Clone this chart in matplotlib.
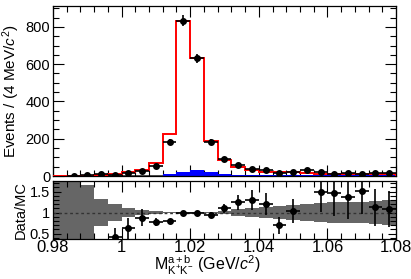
import numpy as np
import matplotlib.pyplot as plt
from matplotlib.ticker import MultipleLocator

plt.rcParams['font.family'] = ['Liberation Sans', 'DejaVu Sans']
plt.rcParams['mathtext.fontset'] = 'custom'
plt.rcParams['mathtext.rm'] = 'Liberation Sans'
plt.rcParams['mathtext.it'] = 'Liberation Sans:italic'

# 25 bins of 4 MeV between 0.98 and 1.08 GeV
edges = np.linspace(0.98, 1.08, 26)
centers = 0.5 * (edges[:-1] + edges[1:])

data = [np.nan, 2, 7, 10, 8, 14, 25, 55, 184, 834, 632, 185, 93, 57, 39,
        30, 18, 21, 30, 22, 12, 14, 12, 14, 14]
mc_total = [0.5, 1, 2, 5, 12, 20, 30, 68, 224, 830, 632, 188, 86, 50, 33,
            24, 20, 19, 14, 13, 12, 11, 10, 10, 10]
mc_bkg = [1, 1, 1, 1, 1, 1, 1, 1, 12, 24, 32, 21, 12, 7, 4,
          4, 5, 6, 8, 8, 8, 8, 8, 8, 8]
mc_other = [3, 3, 3, 3, 3, 3, 3, 3, 0, 0, 0, 0, 0, 0, 0,
            0, 0, 0, 0, 0, 0, 0, 0, 0, 0]

ratio = [np.nan, np.nan, np.nan, np.nan, 0.41, 0.62, 0.88, 0.78, 0.80, 1.0,
         1.0, 0.95, 1.10, 1.24, 1.30, 1.20, 0.70, 1.04, np.nan, 1.50,
         1.47, 1.38, 1.51, 1.12, 1.09]
ratio_err = [np.nan, np.nan, np.nan, np.nan, 0.22, 0.25, 0.20, 0.09, 0.05, 0.035,
             0.04, 0.07, 0.10, 0.18, 0.24, 0.26, 0.20, 0.29, np.nan, 0.48,
             0.55, 0.53, 0.55, 0.45, 0.43]
band = [2.0, 2.0, 0.65, 0.33, 0.21, 0.11, 0.06, 0.04, 0.02, 0.012,
        0.012, 0.02, 0.04, 0.08, 0.11, 0.14, 0.16, 0.18, 0.20, 0.22,
        0.24, 0.25, 0.26, 0.28, 0.30]

data = np.array(data, dtype=float)
ratio = np.array(ratio)
ratio_err = np.array(ratio_err)
band = np.array(band)
halfw = 0.002

fig = plt.figure(figsize=(4.11, 2.79), dpi=100)
ax1 = fig.add_axes([53/411, 103/279, 343/411, 170/279])
ax2 = fig.add_axes([53/411, 40/279, 343/411, 58/279])

# upper panel
ax1.stairs(mc_other, edges, fill=True, color='#555555', zorder=1)
ax1.stairs(mc_bkg, edges, fill=True, color='#0000ff', zorder=2)
ax1.stairs(mc_total, edges, color='#ff0000', lw=1.4, zorder=3)
ax1.errorbar(centers, data, xerr=halfw, yerr=np.sqrt(data), fmt='o',
             color='black', ms=4, elinewidth=1.2, capsize=0, zorder=4)
ax1.set_xlim(0.98, 1.08)
ax1.set_ylim(0, 912)
ax1.set_ylabel('Events / (4 MeV/$\\mathit{c}^{2}$)', fontsize=11)
ax1.yaxis.set_label_coords(-0.09, 0.5)
ax1.yaxis.set_major_locator(MultipleLocator(200))
ax1.yaxis.set_minor_locator(MultipleLocator(50))
ax1.tick_params(axis='x', labelbottom=False)

# lower panel
ax2.stairs(1 + band, edges, baseline=1 - band, fill=True, color='#666666', zorder=1)
ax2.axhline(1.0, color='#333333', ls=(0, (2, 2)), lw=1.0, zorder=2)
ax2.errorbar(centers, ratio, xerr=halfw, yerr=ratio_err, fmt='o',
             color='black', ms=4, elinewidth=1.2, capsize=0, zorder=4)
ax2.set_xlim(0.98, 1.08)
ax2.set_ylim(0.37, 1.75)
ax2.set_ylabel('Data/MC', fontsize=10.5)
ax2.yaxis.set_label_coords(-0.075, 0.5)
ax2.set_xlabel('M$^{\\mathrm{a+b}}_{\\mathrm{K^{+}K^{-}}}$ (GeV/$\\mathit{c}^{2}$)',
               fontsize=11.5)
ax2.xaxis.set_label_coords(0.45, -0.26)
ax2.yaxis.set_major_locator(MultipleLocator(0.5))
ax2.yaxis.set_minor_locator(MultipleLocator(0.1))
ax2.set_yticks([0.5, 1.0, 1.5])
ax2.set_yticklabels(['0.5', '1', '1.5'])
ax2.set_xticks([0.98, 1.0, 1.02, 1.04, 1.06, 1.08])
ax2.set_xticklabels(['0.98', '1', '1.02', '1.04', '1.06', '1.08'])

for ax in (ax1, ax2):
    ax.xaxis.set_minor_locator(MultipleLocator(0.004))
    if ax is ax1:
        ax.xaxis.set_major_locator(MultipleLocator(0.02))
    ax.tick_params(which='both', direction='in', top=True, right=True, width=0.8)
    ax.tick_params(which='major', length=8)
    ax.tick_params(which='minor', length=4)
    for s in ax.spines.values():
        s.set_linewidth(0.9)

ax1.tick_params(axis='y', labelsize=10.5, pad=2)
ax2.tick_params(axis='y', labelsize=10.5, pad=2)
ax2.tick_params(axis='x', labelsize=12, pad=1)
ax2.tick_params(axis='y', which='major', length=6)

fig.savefig('out.png', dpi=100)
